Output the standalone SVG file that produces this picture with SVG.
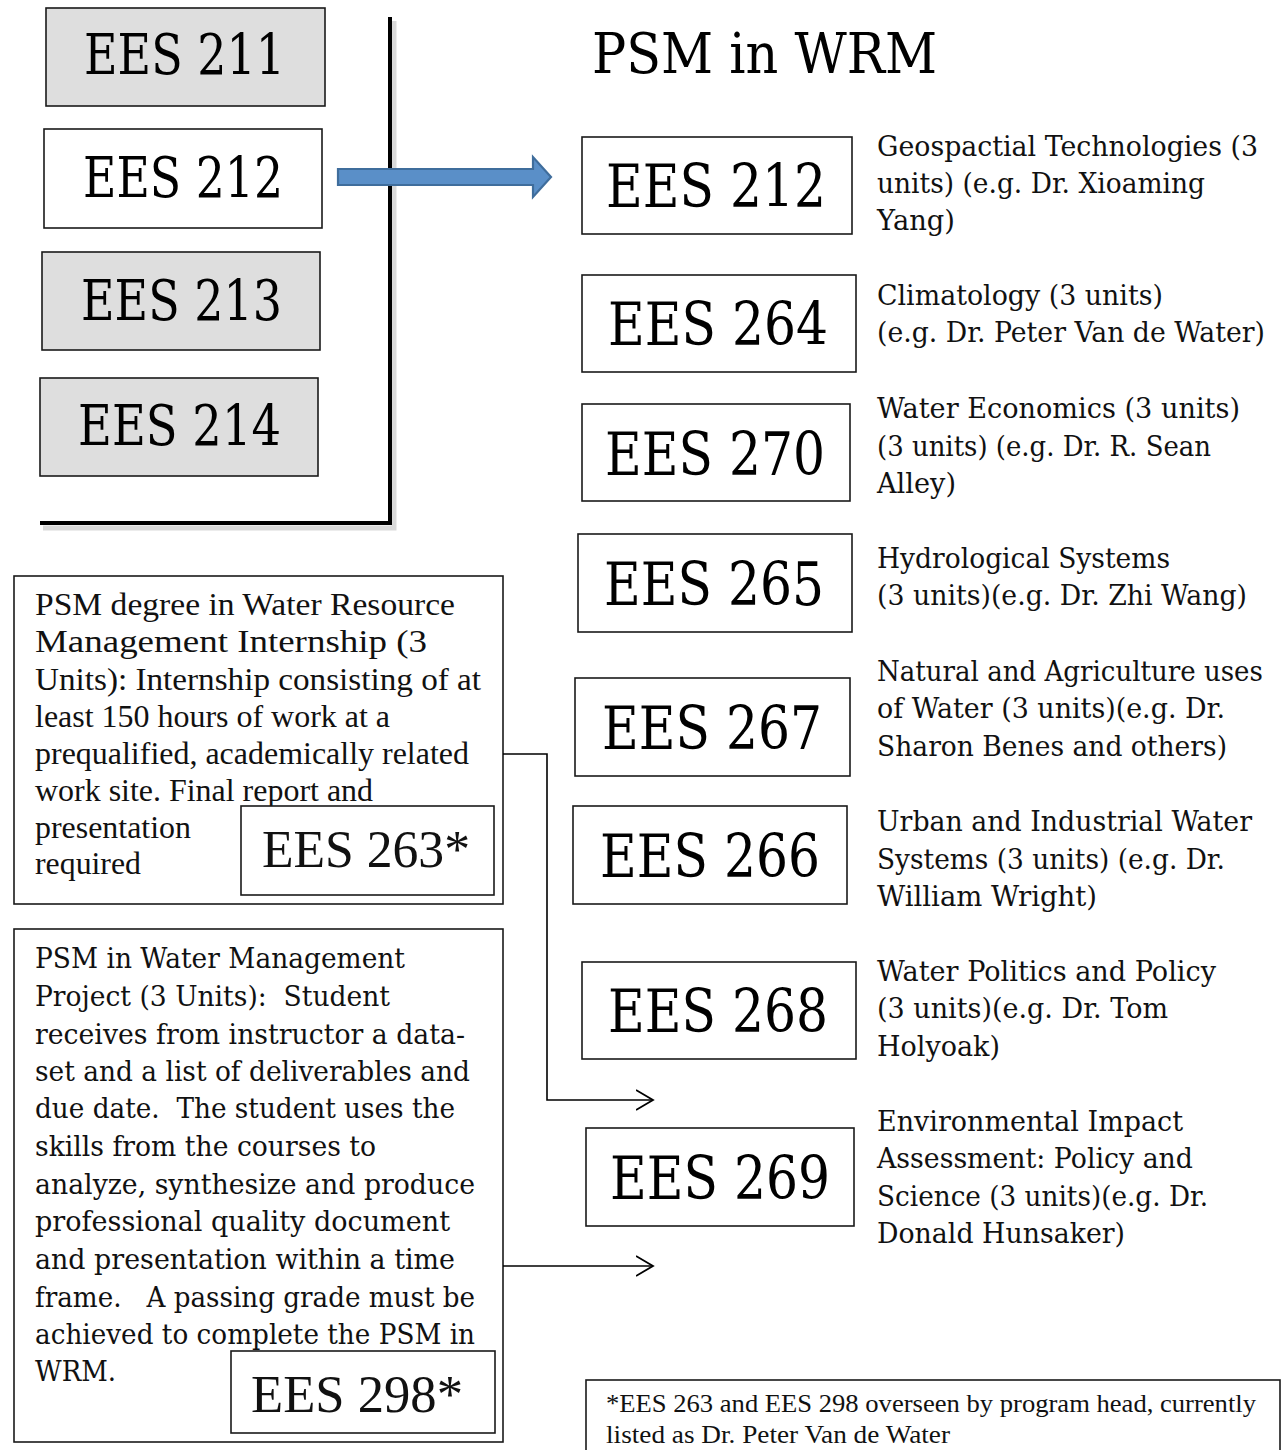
<svg xmlns="http://www.w3.org/2000/svg" width="1282" height="1450" viewBox="0 0 1282 1450">
<defs>
<style>
.box{fill:#fff;stroke:#1a1a1a;stroke-width:1.6}
.gray{fill:#dedede;stroke:#1a1a1a;stroke-width:1.6}
.code{font-family:"DejaVu Serif","Liberation Serif",serif;font-size:56px;fill:#000}
.codeR{font-family:"DejaVu Serif","Liberation Serif",serif;font-size:60px;fill:#000}
.desc{font-family:"DejaVu Serif","Liberation Serif",serif;font-size:28px;fill:#111;white-space:pre}
.times{font-family:"Liberation Serif","Times New Roman",serif;fill:#111;white-space:pre}
.conn{fill:none;stroke:#000;stroke-width:1.6}
</style>
<marker id="chev" markerUnits="userSpaceOnUse" markerWidth="20" markerHeight="24" refX="17" refY="11" orient="auto">
<path d="M0,1 L17,11 L0,21" fill="none" stroke="#000" stroke-width="1.8"/>
</marker>
</defs>
<rect width="1282" height="1450" fill="#fff"/>

<!-- bracket -->
<g id="bracket">
<path d="M394,21 L394,528 L43,528" fill="none" stroke="#cfcfcf" stroke-width="5" opacity="0.8"/>
<path d="M390,17 L390,523 L40,523" fill="none" stroke="#000" stroke-width="4"/>
</g>

<g id="ees211"><rect class="gray" x="46" y="8" width="279" height="98"/><text class="code" x="84" y="74" textLength="201" lengthAdjust="spacingAndGlyphs">EES 211</text></g>
<g id="ees212-left"><rect class="box" x="44" y="129" width="278" height="99"/><text class="code" x="83" y="197" textLength="200" lengthAdjust="spacingAndGlyphs">EES 212</text></g>
<g id="ees213"><rect class="gray" x="42" y="252" width="278" height="98"/><text class="code" x="81" y="320" textLength="201" lengthAdjust="spacingAndGlyphs">EES 213</text></g>
<g id="ees214"><rect class="gray" x="40" y="378" width="278" height="98"/><text class="code" x="78" y="445" textLength="203" lengthAdjust="spacingAndGlyphs">EES 214</text></g>

<g id="title"><text x="592" y="73" font-family="DejaVu Serif, Liberation Serif, serif" font-size="56" textLength="345" lengthAdjust="spacingAndGlyphs">PSM in WRM</text></g>

<g id="blue-arrow">
<polygon points="338,169 533,169 533,157 551,177 533,197 533,185 338,185" fill="#5a8fc8" stroke="#3f6d9c" stroke-width="2.2"/>
</g>

<g id="r-ees212"><rect class="box" x="582" y="137" width="270" height="97"/><text class="codeR" x="606" y="207" textLength="220" lengthAdjust="spacingAndGlyphs">EES 212</text>
<text class="desc" x="877" y="156" textLength="381" lengthAdjust="spacingAndGlyphs">Geospactial Technologies (3</text>
<text class="desc" x="877" y="193" textLength="328" lengthAdjust="spacingAndGlyphs">units) (e.g. Dr. Xioaming</text>
<text class="desc" x="877" y="230" textLength="78" lengthAdjust="spacingAndGlyphs">Yang)</text></g>

<g id="r-ees264"><rect class="box" x="582" y="275" width="274" height="97"/><text class="codeR" x="608" y="345" textLength="220" lengthAdjust="spacingAndGlyphs">EES 264</text>
<text class="desc" x="877" y="305" textLength="286" lengthAdjust="spacingAndGlyphs">Climatology (3 units)</text>
<text class="desc" x="877" y="342" textLength="388" lengthAdjust="spacingAndGlyphs">(e.g. Dr. Peter Van de Water)</text></g>

<g id="r-ees270"><rect class="box" x="582" y="404" width="268" height="97"/><text class="codeR" x="605" y="475" textLength="220" lengthAdjust="spacingAndGlyphs">EES 270</text>
<text class="desc" x="877" y="418" textLength="363" lengthAdjust="spacingAndGlyphs">Water Economics (3 units)</text>
<text class="desc" x="877" y="456" textLength="334" lengthAdjust="spacingAndGlyphs">(3 units) (e.g. Dr. R. Sean</text>
<text class="desc" x="877" y="493" textLength="79" lengthAdjust="spacingAndGlyphs">Alley)</text></g>

<g id="r-ees265"><rect class="box" x="578" y="534" width="274" height="98"/><text class="codeR" x="604" y="605" textLength="220" lengthAdjust="spacingAndGlyphs">EES 265</text>
<text class="desc" x="877" y="568" textLength="293" lengthAdjust="spacingAndGlyphs">Hydrological Systems</text>
<text class="desc" x="877" y="605" textLength="370" lengthAdjust="spacingAndGlyphs">(3 units)(e.g. Dr. Zhi Wang)</text></g>

<g id="r-ees267"><rect class="box" x="575" y="678" width="275" height="98"/><text class="codeR" x="602" y="749" textLength="220" lengthAdjust="spacingAndGlyphs">EES 267</text>
<text class="desc" transform="translate(877,681) scale(0.85,1)" x="0" y="0" textLength="454" lengthAdjust="spacingAndGlyphs">Natural and Agriculture uses</text>
<text class="desc" x="877" y="718" textLength="348" lengthAdjust="spacingAndGlyphs">of Water (3 units)(e.g. Dr.</text>
<text class="desc" x="877" y="756" textLength="350" lengthAdjust="spacingAndGlyphs">Sharon Benes and others)</text></g>

<g id="r-ees266"><rect class="box" x="573" y="806" width="274" height="98"/><text class="codeR" x="600" y="877" textLength="220" lengthAdjust="spacingAndGlyphs">EES 266</text>
<text class="desc" x="877" y="831" textLength="375" lengthAdjust="spacingAndGlyphs">Urban and Industrial Water</text>
<text class="desc" x="877" y="869" textLength="348" lengthAdjust="spacingAndGlyphs">Systems (3 units) (e.g. Dr.</text>
<text class="desc" x="877" y="906" textLength="220" lengthAdjust="spacingAndGlyphs">William Wright)</text></g>

<g id="r-ees268"><rect class="box" x="582" y="962" width="274" height="97"/><text class="codeR" x="608" y="1032" textLength="220" lengthAdjust="spacingAndGlyphs">EES 268</text>
<text class="desc" x="877" y="981" textLength="339" lengthAdjust="spacingAndGlyphs">Water Politics and Policy</text>
<text class="desc" x="877" y="1018" textLength="291" lengthAdjust="spacingAndGlyphs">(3 units)(e.g. Dr. Tom</text>
<text class="desc" x="877" y="1056" textLength="123" lengthAdjust="spacingAndGlyphs">Holyoak)</text></g>

<g id="r-ees269"><rect class="box" x="586" y="1128" width="268" height="98"/><text class="codeR" x="610" y="1199" textLength="220" lengthAdjust="spacingAndGlyphs">EES 269</text>
<text class="desc" x="877" y="1131" textLength="306" lengthAdjust="spacingAndGlyphs">Environmental Impact</text>
<text class="desc" x="877" y="1168" textLength="316" lengthAdjust="spacingAndGlyphs">Assessment: Policy and</text>
<text class="desc" x="877" y="1206" textLength="331" lengthAdjust="spacingAndGlyphs">Science (3 units)(e.g. Dr.</text>
<text class="desc" x="877" y="1243" textLength="248" lengthAdjust="spacingAndGlyphs">Donald Hunsaker)</text></g>

<g id="internship">
<rect class="box" x="14" y="576" width="489" height="328"/>
<g class="times" font-size="32">
<text x="35" y="615" textLength="420" lengthAdjust="spacingAndGlyphs">PSM degree in Water Resource</text>
<text x="35" y="652" textLength="392" lengthAdjust="spacingAndGlyphs">Management Internship (3</text>
<text x="35" y="690" textLength="446" lengthAdjust="spacingAndGlyphs">Units): Internship consisting of at</text>
<text x="35" y="727" textLength="355" lengthAdjust="spacingAndGlyphs">least 150 hours of work at a</text>
<text x="35" y="764" textLength="434" lengthAdjust="spacingAndGlyphs">prequalified, academically related</text>
<text x="35" y="801" textLength="338" lengthAdjust="spacingAndGlyphs">work site. Final report and</text>
<text x="35" y="838" textLength="156" lengthAdjust="spacingAndGlyphs">presentation</text>
<text x="35" y="874" textLength="106" lengthAdjust="spacingAndGlyphs">required</text>
</g>
</g>
<g id="ees263"><rect class="box" x="241" y="806" width="253" height="89"/><text class="times" font-size="52" x="262" y="867" textLength="208" lengthAdjust="spacingAndGlyphs">EES 263*</text></g>

<g id="project">
<rect class="box" x="14" y="929" width="489" height="513"/>
<g class="desc">
<text x="35" y="968" textLength="370" lengthAdjust="spacingAndGlyphs">PSM in Water Management</text>
<text x="35" y="1006" xml:space="preserve" textLength="355" lengthAdjust="spacingAndGlyphs">Project (3 Units):  Student</text>
<text x="35" y="1044" textLength="430" lengthAdjust="spacingAndGlyphs">receives from instructor a data-</text>
<text x="35" y="1081" textLength="435" lengthAdjust="spacingAndGlyphs">set and a list of deliverables and</text>
<text x="35" y="1118" xml:space="preserve" textLength="420" lengthAdjust="spacingAndGlyphs">due date.  The student uses the</text>
<text x="35" y="1156" textLength="341" lengthAdjust="spacingAndGlyphs">skills from the courses to</text>
<text x="35" y="1194" textLength="440" lengthAdjust="spacingAndGlyphs">analyze, synthesize and produce</text>
<text x="35" y="1231" textLength="415" lengthAdjust="spacingAndGlyphs">professional quality document</text>
<text x="35" y="1269" textLength="420" lengthAdjust="spacingAndGlyphs">and presentation within a time</text>
<text x="35" y="1307" xml:space="preserve" textLength="440" lengthAdjust="spacingAndGlyphs">frame.   A passing grade must be</text>
<text x="35" y="1344" textLength="440" lengthAdjust="spacingAndGlyphs">achieved to complete the PSM in</text>
<text x="35" y="1381" textLength="81" lengthAdjust="spacingAndGlyphs">WRM.</text>
</g>
</g>
<g id="ees298"><rect class="box" x="231" y="1351" width="264" height="82"/><text class="times" font-size="52" x="251" y="1412" textLength="212" lengthAdjust="spacingAndGlyphs">EES 298*</text></g>

<g id="footnote">
<rect class="box" x="586" y="1380" width="694" height="80"/>
<g class="times" font-size="25">
<text x="606" y="1412" textLength="650" lengthAdjust="spacingAndGlyphs">*EES 263 and EES 298 overseen by program head, currently</text>
<text x="606" y="1443" textLength="344" lengthAdjust="spacingAndGlyphs">listed as Dr. Peter Van de Water</text>
</g>
</g>

<g id="connectors">
<path class="conn" d="M503,754 L547,754 L547,1100 L653,1100" marker-end="url(#chev)"/>
<path class="conn" d="M503,1266 L653,1266" marker-end="url(#chev)"/>
</g>
</svg>
